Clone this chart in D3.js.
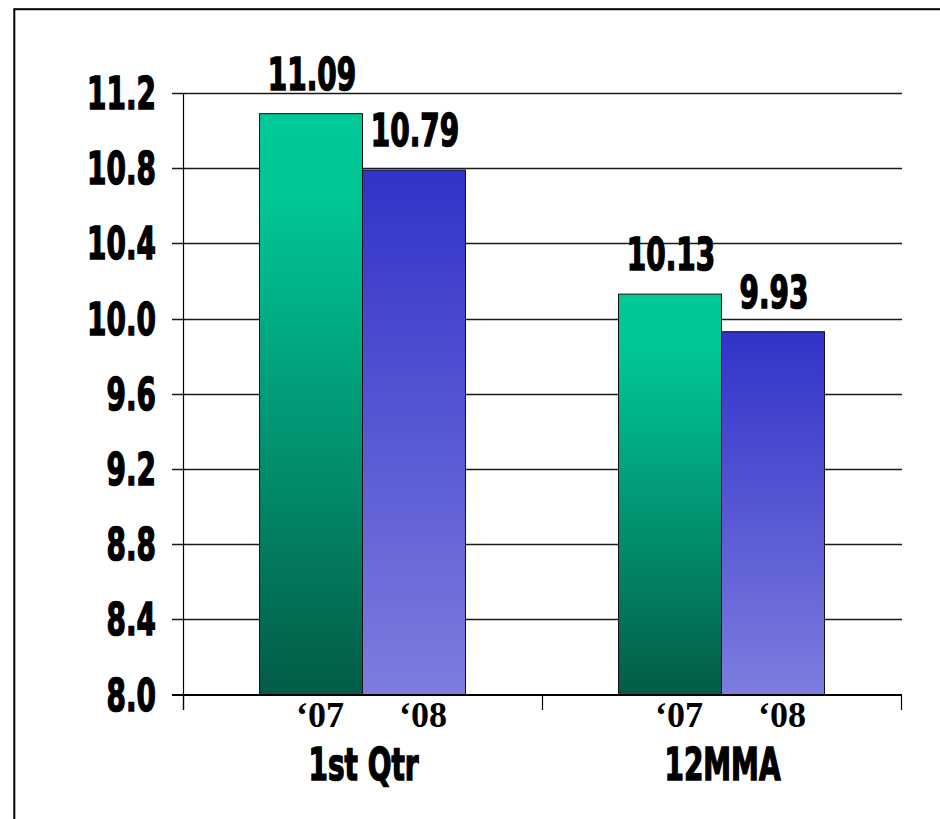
<!DOCTYPE html>
<html>
<head>
<meta charset="utf-8">
<script src="https://cdn.jsdelivr.net/npm/d3@7/dist/d3.min.js"></script>
<style>
	body { margin: 0; background: #ffffff; }
	svg { display: block; }
</style>
</head>
<body>
<svg id="chart" width="940" height="819"></svg>
<script>
var categories = ["1st Qtr", "12MMA"];
var seriesNames = ["\u201807", "\u201808"];
var values07 = [11.09, 10.13];
var values08 = [10.79, 9.93];
var yTicks = [8.0, 8.4, 8.8, 9.2, 9.6, 10.0, 10.4, 10.8, 11.2];

var svg = d3.select("#chart");
var squeeze = 0.635;   // the bold labels are tall and narrow

// frame round the slide (only top and left fall inside the picture)
svg.append("rect")
	.attr("x", 14.3).attr("y", 9.2)
	.attr("width", 1000).attr("height", 1000)
	.attr("fill", "none")
	.attr("stroke", "#000")
	.attr("stroke-width", 2);

var defs = svg.append("defs");

var green = defs.append("linearGradient")
	.attr("id", "gradGreen")
	.attr("x1", 0).attr("y1", 0).attr("x2", 0).attr("y2", 1);
green.append("stop").attr("offset", "0%").attr("stop-color", "#00c997");
green.append("stop").attr("offset", "15%").attr("stop-color", "#00c595");
green.append("stop").attr("offset", "55%").attr("stop-color", "#019572");
green.append("stop").attr("offset", "100%").attr("stop-color", "#035b46");

var blue = defs.append("linearGradient")
	.attr("id", "gradBlue")
	.attr("x1", 0).attr("y1", 0).attr("x2", 0).attr("y2", 1);
blue.append("stop").attr("offset", "0%").attr("stop-color", "#3232c9");
blue.append("stop").attr("offset", "100%").attr("stop-color", "#7d7ddf");

var fills = ["url(#gradGreen)", "url(#gradBlue)"];

// scales
var y = d3.scaleLinear().domain([8.0, 11.2]).range([694.5, 93]);

var x0 = d3.scaleBand()
	.domain(categories)
	.range([183, 901])
	.padding(0);

var x1 = d3.scaleBand()
	.domain(seriesNames)
	.range([0, x0.bandwidth()])
	.paddingInner(0)
	.paddingOuter(0.743);

// gridlines (the 8.0 one is the x axis)
svg.append("g")
	.selectAll("line")
	.data(yTicks.slice(1))
	.enter().append("line")
	.attr("x1", 172).attr("x2", 902)
	.attr("y1", function(d) { return Math.round(y(d)) + 0.5; })
	.attr("y2", function(d) { return Math.round(y(d)) + 0.5; })
	.attr("stroke", "#1a1a1a")
	.attr("stroke-width", 1.4);

// bars
var rows = [];
categories.forEach(function(c, i) {
	rows.push({ cat: c, series: seriesNames[0], value: values07[i], fill: fills[0] });
	rows.push({ cat: c, series: seriesNames[1], value: values08[i], fill: fills[1] });
});

svg.append("g")
	.selectAll("rect")
	.data(rows)
	.enter().append("rect")
	.attr("x", function(d) { return x0(d.cat) + x1(d.series); })
	.attr("y", function(d) { return y(d.value); })
	.attr("width", x1.bandwidth())
	.attr("height", function(d) { return y(8.0) - y(d.value); })
	.attr("fill", function(d) { return d.fill; })
	.attr("stroke", "#111")
	.attr("stroke-width", 1);

// y axis line
svg.append("line")
	.attr("x1", 183.5).attr("x2", 183.5)
	.attr("y1", 93).attr("y2", 710)
	.attr("stroke", "#000").attr("stroke-width", 1.2);

// x axis with ticks at group edges
svg.append("line")
	.attr("x1", 172).attr("x2", 902)
	.attr("y1", 695).attr("y2", 695)
	.attr("stroke", "#000").attr("stroke-width", 2);

var edges = categories.map(function(c) { return x0(c); }).concat([x0.range()[1]]);
svg.append("g")
	.selectAll("line")
	.data(edges)
	.enter().append("line")
	.attr("x1", function(d) { return d + 0.5; })
	.attr("x2", function(d) { return d + 0.5; })
	.attr("y1", 695).attr("y2", 710)
	.attr("stroke", "#000").attr("stroke-width", 1.2);

function boldText(sel) {
	return sel
		.attr("font-family", "DejaVu Sans, sans-serif")
		.attr("font-weight", "bold")
		.attr("font-size", "44px")
		.attr("fill", "#000")
		.attr("stroke", "#000")
		.attr("stroke-width", 1.6);
}

// y tick labels
boldText(svg.append("g")
	.selectAll("text")
	.data(yTicks)
	.enter().append("text"))
	.attr("text-anchor", "end")
	.attr("transform", function(d) {
		return "translate(156," + (y(d) + 16) + ") scale(" + squeeze + ",1)";
	})
	.text(function(d) { return d.toFixed(1); });

// value labels above bars
boldText(svg.append("g")
	.selectAll("text")
	.data(rows)
	.enter().append("text"))
	.attr("text-anchor", "middle")
	.attr("transform", function(d) {
		var cx = x0(d.cat) + x1(d.series) + x1.bandwidth() / 2 + 1;
		return "translate(" + cx + "," + (y(d.value) - 24) + ") scale(" + squeeze + ",1)";
	})
	.text(function(d) { return d.value.toFixed(2); });

// series labels under each bar
svg.append("g")
	.selectAll("text")
	.data(rows)
	.enter().append("text")
	.attr("x", function(d) { return x0(d.cat) + x1(d.series) + x1.bandwidth() / 2 + 9; })
	.attr("y", 727)
	.attr("text-anchor", "middle")
	.attr("font-family", "Liberation Serif, serif")
	.attr("font-weight", "bold")
	.attr("font-size", "36px")
	.attr("fill", "#000")
	.text(function(d) { return d.series; });

// category labels
boldText(svg.append("g")
	.selectAll("text")
	.data(categories)
	.enter().append("text"))
	.attr("text-anchor", "middle")
	.attr("transform", function(d) {
		return "translate(" + (x0(d) + x0.bandwidth() / 2 + 1) + ",780) scale(" + squeeze + ",1)";
	})
	.text(function(d) { return d; });
</script>
</body>
</html>
